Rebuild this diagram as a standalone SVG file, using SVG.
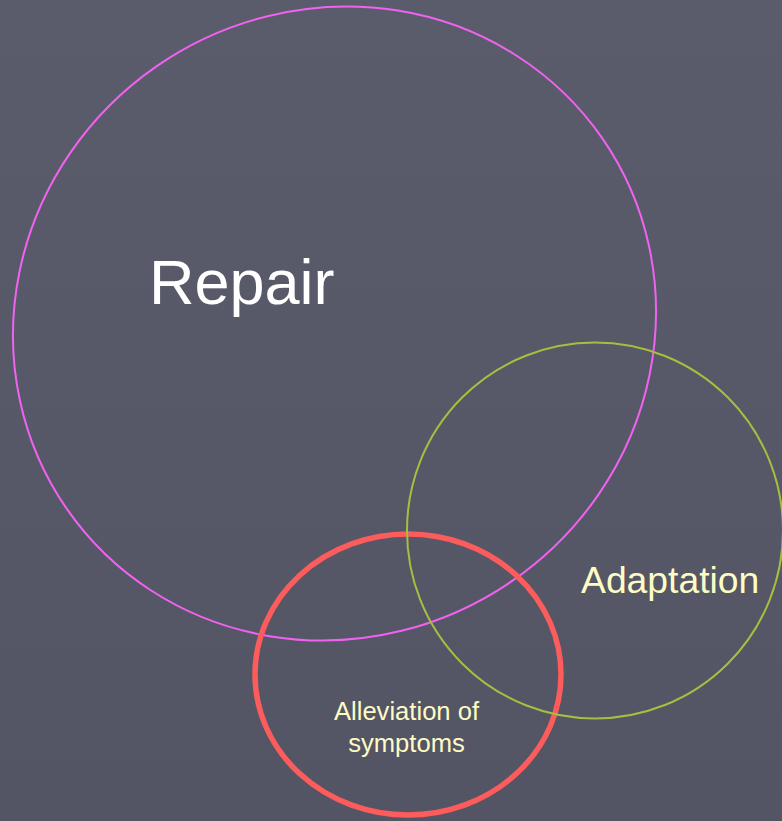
<svg xmlns="http://www.w3.org/2000/svg" width="782" height="821" viewBox="0 0 782 821">
  <defs>
    <linearGradient id="bg" x1="0" y1="0" x2="0" y2="1">
      <stop offset="0" stop-color="#5b5c6b"/>
      <stop offset="1" stop-color="#535464"/>
    </linearGradient>
  </defs>
  <style>
    .ring { fill: none; }
    .lbl { font-family: "Liberation Sans", Arial, sans-serif; }
  </style>
  <rect x="0" y="0" width="782" height="821" fill="url(#bg)"/>
  <g id="repair">
    <ellipse class="ring" cx="334.5" cy="323.5" rx="325.6" ry="312.8" transform="rotate(-34.7 334.5 323.5)" stroke="#f062f0" stroke-width="2"/>
    <text class="lbl" x="149" y="304" font-size="63" fill="#ffffff">Repair</text>
  </g>
  <g id="alleviation">
    <ellipse class="ring" cx="408" cy="674.5" rx="153" ry="140.5" stroke="#fd5c5c" stroke-width="5.5"/>
    <text class="lbl" text-anchor="middle" font-size="25.6" fill="#fdfcc4"><tspan x="406.5" y="720">Alleviation of</tspan><tspan x="406.5" y="752">symptoms</tspan></text>
  </g>
  <g id="adaptation">
    <circle class="ring" cx="595" cy="530.5" r="188" stroke="#a6bf3f" stroke-width="2"/>
    <text class="lbl" x="581" y="593" font-size="37.3" fill="#fdfcc4">Adaptation</text>
  </g>
</svg>
